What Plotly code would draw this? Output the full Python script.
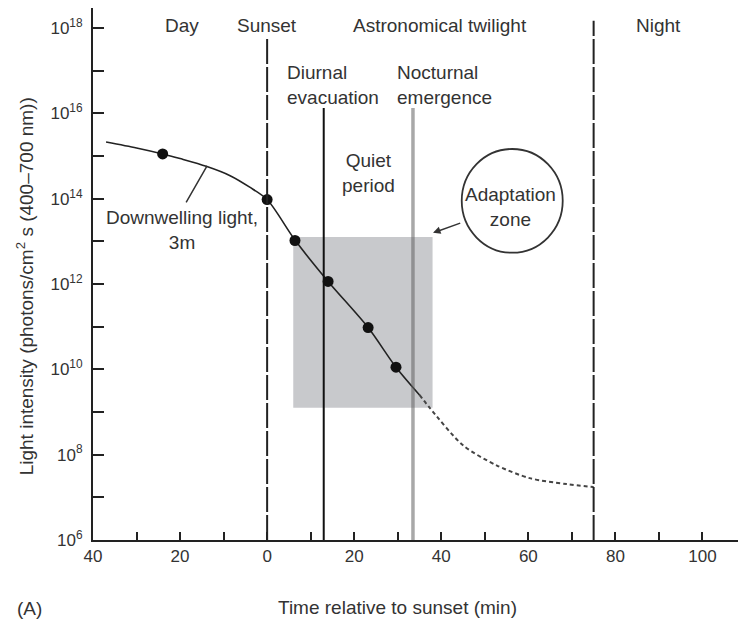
import plotly.graph_objects as go

# ---- data ----
curve_x = [-37, -30, -24, -20, -14, -8.5, -4, 0, 6.4, 14, 23.2, 29.6, 35]
curve_log10 = [15.33, 15.19, 15.05, 14.94, 14.76, 14.54, 14.27, 13.98, 13.03, 12.06, 10.98, 10.05, 9.4]
extrap_x = [35, 37.4, 45, 52.7, 60.3, 68.8, 75]
extrap_log10 = [9.4, 9.09, 8.22, 7.75, 7.45, 7.31, 7.24]
points_x = [-24, 0, 6.4, 14, 23.2, 29.6]
points_log10 = [15.05, 13.98, 13.02, 12.06, 10.98, 10.05]

x_tickvals = [-40, -20, 0, 20, 40, 60, 80, 100]
x_ticktext = ["40", "20", "0", "20", "40", "60", "80", "100"]
x_minorvals = [-30, -10, 10, 30, 50, 70, 90, 110]
y_major_exp = [6, 8, 10, 12, 14, 16, 18]
y_minor_exp = [7, 9, 11, 13, 15, 17]
y_ticktext = ["10<sup>%d</sup>" % e for e in y_major_exp]

sunset_x = 0
diurnal_x = 13
nocturnal_x = 33.5
night_x = 75
zone_x = [6, 38]
zone_log10 = [9.1, 13.1]

FONT = "Liberation Sans, Arial, Helvetica, sans-serif"
TXT = "#333333"
FS = 19
TFS = 17

fig = go.Figure()

fig.add_trace(go.Scatter(
    x=curve_x, y=[10 ** v for v in curve_log10], mode="lines",
    line=dict(color="#222222", width=1.6, shape="spline", smoothing=0.8),
    hoverinfo="skip", showlegend=False))
fig.add_trace(go.Scatter(
    x=extrap_x, y=[10 ** v for v in extrap_log10], mode="lines",
    line=dict(color="#444444", width=2, dash="4px,3px", shape="spline", smoothing=0.8),
    hoverinfo="skip", showlegend=False))
fig.add_trace(go.Scatter(
    x=points_x, y=[10 ** v for v in points_log10], mode="markers",
    marker=dict(color="#111111", size=11),
    hoverinfo="skip", showlegend=False))

shapes = []
shapes.append(dict(type="rect", xref="x", yref="y", layer="below",
                   x0=zone_x[0], x1=zone_x[1], y0=10 ** zone_log10[0], y1=10 ** zone_log10[1],
                   fillcolor="rgb(200,201,204)", line=dict(width=0)))
shapes.append(dict(type="line", xref="x", yref="paper", x0=sunset_x, x1=sunset_x, y0=0, y1=0.947,
                   line=dict(color="#222222", width=2, dash="25px,3px")))
shapes.append(dict(type="line", xref="x", yref="paper", x0=night_x, x1=night_x, y0=0, y1=0.976,
                   line=dict(color="#222222", width=2, dash="25px,3px")))
shapes.append(dict(type="line", xref="x", yref="paper", x0=diurnal_x, x1=diurnal_x, y0=0, y1=0.812,
                   line=dict(color="#111111", width=2)))
shapes.append(dict(type="line", xref="x", yref="paper", x0=nocturnal_x, x1=nocturnal_x, y0=0, y1=0.812,
                   line=dict(color="rgba(100,100,100,0.56)", width=3.5)))
shapes.append(dict(type="circle", xref="x", yref="paper", x0=44.7, x1=67.9, y0=0.540, y1=0.735,
                   line=dict(color="#333333", width=1.8)))

annotations = []
def label(text, x, y, xanchor="center", align="center", xref="x", yref="y"):
    annotations.append(dict(text=text, x=x, y=y, xref=xref, yref=yref, showarrow=False,
                            xanchor=xanchor, yanchor="middle", align=align,
                            font=dict(family=FONT, size=FS, color=TXT)))

label("Day", -19.5, 18.07)
label("Sunset", 0, 18.07)
label("Astronomical twilight", 39.6, 18.07)
label("Night", 90, 18.07)
label("Diurnal<br>evacuation", 4.1, 16.67, xanchor="left", align="left")
label("Nocturnal<br>emergence", 29.4, 16.67, xanchor="left", align="left")
label("Quiet<br>period", 23.2, 14.61)
label("Adaptation<br>zone", 56, 13.81)
label("Downwelling light,<br>3m", -19.5, 13.27)
label("Time relative to sunset (min)", 0.466, -0.126, xref="paper", yref="paper")
label("(A)", -0.0965, -0.128, xref="paper", yref="paper")
annotations.append(dict(text="Light intensity (photons/cm<sup>2</sup> s (400–700 nm))",
                        x=-0.104, y=0.477, xref="paper", yref="paper", showarrow=False,
                        textangle=-90, xanchor="center", yanchor="middle",
                        font=dict(family=FONT, size=FS, color=TXT)))
annotations.append(dict(text="", x=-13.8, y=14.77, ax=-18.8, ay=13.88, xref="x", yref="y",
                        axref="x", ayref="y", showarrow=True, arrowhead=0, arrowwidth=1.5,
                        arrowcolor="#333333"))
annotations.append(dict(text="", x=38.1, y=13.2, ax=44.7, ay=13.44, xref="x", yref="y",
                        axref="x", ayref="y", showarrow=True, arrowhead=2, arrowsize=1,
                        arrowwidth=1.5, arrowcolor="#333333"))

fig.update_layout(
    width=738, height=616,
    margin=dict(l=85, r=0, t=0, b=84),
    paper_bgcolor="white", plot_bgcolor="white",
    font=dict(family=FONT, size=TFS, color=TXT),
    shapes=shapes, annotations=annotations,
    xaxis=dict(range=[-40, 110], tickmode="array", tickvals=x_tickvals, ticktext=x_ticktext,
               ticks="inside", ticklen=8, tickwidth=2, tickcolor="#222222",
               minor=dict(tickmode="array", tickvals=x_minorvals, ticks="inside", ticklen=8,
                          tickwidth=2, tickcolor="#222222", showgrid=False),
               showline=True, linecolor="#222222", linewidth=2, showgrid=False, zeroline=False,
               tickfont=dict(family=FONT, size=TFS, color=TXT)),
    yaxis=dict(type="log", range=[6, 18.47], tickmode="array",
               tickvals=[10 ** e for e in y_major_exp], ticktext=y_ticktext,
               ticks="inside", ticklen=11, tickwidth=2, tickcolor="#222222",
               ticklabelstandoff=5,
               minor=dict(tickmode="array", tickvals=[10 ** e for e in y_minor_exp], ticks="inside",
                          ticklen=11, tickwidth=2, tickcolor="#222222", showgrid=False),
               showline=True, linecolor="#222222", linewidth=2, showgrid=False, zeroline=False,
               tickfont=dict(family=FONT, size=TFS, color=TXT)),
)

fig.write_html("out.html")
